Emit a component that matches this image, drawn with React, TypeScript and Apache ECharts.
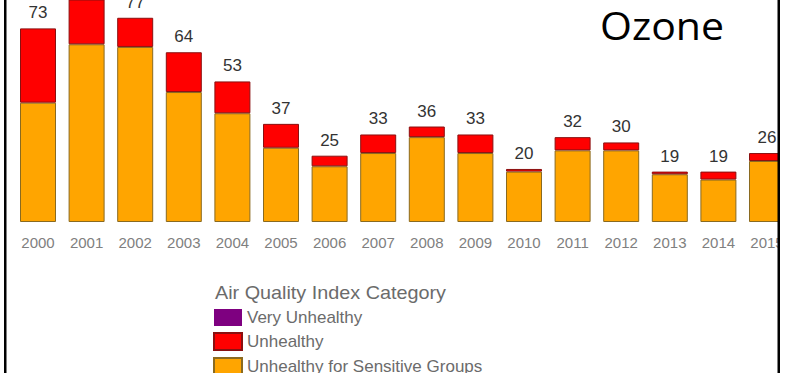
import React, { useEffect, useRef } from "react";
import * as echarts from "echarts";

const years = ["2000","2001","2002","2003","2004","2005","2006","2007","2008","2009","2010","2011","2012","2013","2014","2015"];
const sensitiveGroups = [45, 67, 66, 49, 41, 28, 21, 26, 32, 26, 19, 27, 27, 18, 16, 23];
const unhealthy = [28, 21, 11, 15, 12, 9, 4, 7, 4, 7, 1, 5, 3, 1, 3, 3];
const veryUnhealthy = [0, 0, 0, 0, 0, 0, 0, 0, 0, 0, 0, 0, 0, 0, 0, 0];
const legendTitle = "Air Quality Index Category";
const chartTitle = "Ozone";

export default function App() {
  const ref = useRef<HTMLDivElement>(null);
  useEffect(() => {
    if (!ref.current) return;
    const chart = echarts.init(ref.current, undefined, { renderer: "svg" });
    const font = "'Liberation Sans', Arial, sans-serif";
    chart.setOption({
      animation: false,
      backgroundColor: "#ffffff",
      grid: { left: 13.7, right: 8.7, top: 0, bottom: 198, containLabel: false },
      xAxis: {
        type: "category",
        data: years,
        axisLine: { show: false },
        axisTick: { show: false },
        axisLabel: { color: "#808080", fontSize: 15, fontFamily: font, margin: 13, interval: 0 },
      },
      yAxis: { type: "value", min: 0, max: 83.7, show: false, splitLine: { show: false } },
      legend: {
        orient: "vertical",
        left: 213,
        top: 309,
        padding: 0,
        itemWidth: 28,
        itemHeight: 17,
        itemGap: 6,
        icon: "rect",
        data: ["Very Unhealthy", "Unhealthy", "Unhealthy for Sensitive Groups"],
        textStyle: { color: "#6b6b6b", fontSize: 17, lineHeight: 16, fontFamily: font },
        selectedMode: false,
      },
      series: [
        {
          name: "Unhealthy for Sensitive Groups",
          type: "bar",
          stack: "aqi",
          barWidth: 36,
          data: sensitiveGroups,
          itemStyle: { color: "#FFA500", borderColor: "#8a6a20", borderWidth: 1 },
        },
        {
          name: "Unhealthy",
          type: "bar",
          stack: "aqi",
          barWidth: 36,
          data: unhealthy,
          itemStyle: { color: "#FF0000", borderColor: "#8a1010", borderWidth: 1 },
          label: {
            show: true,
            position: "top",
            distance: 7,
            color: "#333",
            fontSize: 17,
            fontFamily: font,
            formatter: (p: any) => String(sensitiveGroups[p.dataIndex] + unhealthy[p.dataIndex] + veryUnhealthy[p.dataIndex]),
          },
        },
        {
          name: "Very Unhealthy",
          type: "bar",
          stack: "aqi",
          barWidth: 36,
          data: veryUnhealthy,
          itemStyle: { color: "#7E0080", borderWidth: 0 },
        },
      ],
      graphic: [
        {
          type: "text",
          x: 215,
          y: 284,
          scaleX: 1.1,
          style: { text: legendTitle, fill: "#6b6b6b", font: `18px ${font}` },
        },
        {
          type: "text",
          x: 600,
          y: 7,
          scaleX: 1.08,
          style: { text: chartTitle, fill: "#000", font: `38px 'Open Sans', sans-serif` },
          z: 100,
        },
        { type: "rect", shape: { x: 780, y: 0, width: 30, height: 420 }, style: { fill: "#fff" }, z: 100 },
        { type: "rect", shape: { x: 777.5, y: 0, width: 2.5, height: 420 }, style: { fill: "#000" }, z: 101 },
        { type: "rect", shape: { x: 4, y: 0, width: 2.5, height: 420 }, style: { fill: "#000" }, z: 101 },
      ],
    });
    return () => chart.dispose();
  }, []);
  return (
    <div style={{ position: "fixed", left: 0, top: 0, width: 786, height: 373, overflow: "hidden", background: "#fff" }}>
      <div ref={ref} style={{ width: 800, height: 420 }} />
    </div>
  );
}
